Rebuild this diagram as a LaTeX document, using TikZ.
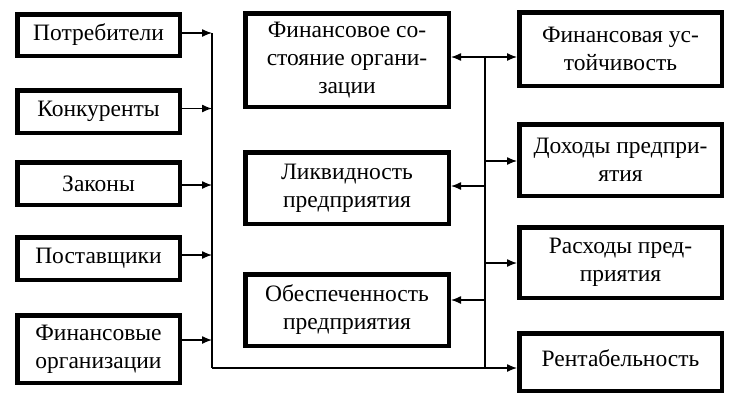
\documentclass[tikz,border=0pt]{standalone}
\usepackage{fontspec}
\setmainfont{Liberation Serif}
\usetikzlibrary{arrows.meta}
\begin{document}
\begin{tikzpicture}[x=1pt,y=-1pt,
  box/.style={draw, line width=4.5pt, align=center, inner sep=0pt,
    font=\fontsize{23.5}{28}\selectfont},
  lbox/.style={box, minimum width=162.5pt},
  mbox/.style={box, minimum width=203.5pt},
  rbox/.style={box, minimum width=202.5pt},
  conn/.style={line width=1.3pt},
  arr/.style={conn, -{Latex[length=10pt,width=8pt]}},
  darr/.style={conn, {Latex[length=10pt,width=8pt]}-{Latex[length=10pt,width=8pt]}}]
\useasboundingbox (0,0) rectangle (733,402);
% left column
\node[lbox, minimum height=41.5pt] (potr) at (98.5,35) {Потребители};
\node[lbox, minimum height=42.5pt] (konk) at (98.5,111.5) {Конкуренты};
\node[lbox, minimum height=42.5pt] (zak) at (98.5,183.5) {Законы};
\node[lbox, minimum height=42.5pt] (post) at (98.5,258.5) {Поставщики};
\node[lbox, minimum height=67.5pt] (fino) at (98.5,349) {Финансовые\\организации};
% middle column
\node[mbox, minimum height=93.5pt] (fins) at (347,60) {Финансовое со-\\стояние органи-\\зации};
\node[mbox, minimum height=71.5pt] (likv) at (347,188) {Ликвидность\\предприятия};
\node[mbox, minimum height=71.5pt] (obes) at (347,310) {Обеспеченность\\предприятия};
% right column
\node[rbox, minimum height=73.5pt] (fust) at (620.5,49) {Финансовая ус-\\тойчивость};
\node[rbox, minimum height=71.5pt] (doh) at (620.5,160) {Доходы предпри-\\ятия};
\node[rbox, minimum height=70.5pt] (rash) at (620.5,262.5) {Расходы пред-\\приятия};
\node[rbox, minimum height=57.5pt] (rent) at (620.5,362) {Рентабельность\rule[-7pt]{0pt}{0pt}};
% bus coordinates
\coordinate (lt) at (212,33);
\coordinate (lb) at (212,368);
\coordinate (rt) at (485,57);
\coordinate (rb) at (485,368);
\coordinate (r2) at (485,161);
\coordinate (r3) at (485,186);
\coordinate (r4) at (485,263);
\coordinate (r5) at (485,300);
% left arrows
\draw[arr] (potr.east |- lt) -- (lt);
\draw[arr] (konk.east) ++(0,-3) coordinate (k1) -- (k1 -| lt);
\draw[arr] (zak.east) ++(0,1.5) coordinate (z1) -- (z1 -| lt);
\draw[arr] (post.east) ++(0,-3.5) coordinate (p1) -- (p1 -| lt);
\draw[arr] (fino.east) ++(0,-9) coordinate (f1) -- (f1 -| lt);
\draw[conn] (lt) -- (lb);
\draw[arr] (lb) -- (lb -| rent.west);
% right bus
\draw[darr] (fins.east |- rt) -- (rt -| fust.west);
\draw[conn] (rt) -- (rb);
\draw[arr] (r2) -- (r2 -| doh.west);
\draw[arr] (r3) -- (r3 -| likv.east);
\draw[arr] (r4) -- (r4 -| rash.west);
\draw[arr] (r5) -- (r5 -| obes.east);
\end{tikzpicture}
\end{document}
